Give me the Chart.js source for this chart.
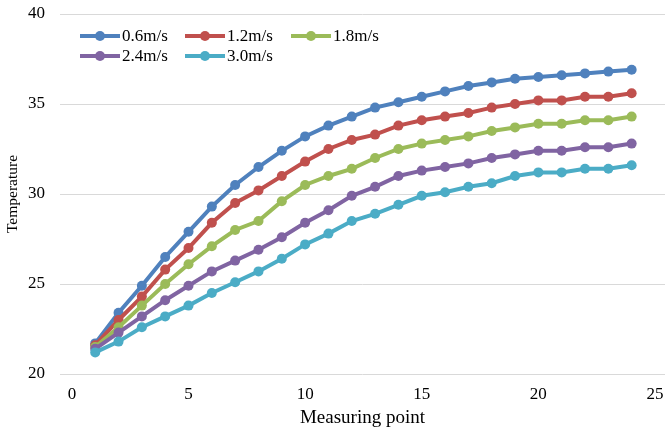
<!DOCTYPE html>
<html>
<head>
<meta charset="utf-8">
<title>Temperature along measuring points</title>
<script src="https://cdn.jsdelivr.net/npm/chart.js@4/dist/chart.umd.min.js"></script>
<style>
  html, body { margin: 0; padding: 0; background: #ffffff; }
  canvas { display: block; }
</style>
</head>
<body>
<canvas id="chart" width="665" height="429"></canvas>
<script>
// Measuring point index (x values)
const measuringPoints = [1, 2, 3, 4, 5, 6, 7, 8, 9, 10, 11, 12, 13, 14, 15, 16, 17, 18, 19, 20, 21, 22, 23, 24];

// Air speed of each series
const speedLabels = ['0.6m/s', '1.2m/s', '1.8m/s', '2.4m/s', '3.0m/s'];

// Temperature at each measuring point, one array per air speed
const temp06 = [21.7, 23.4, 24.9, 26.5, 27.9, 29.3, 30.5, 31.5, 32.4, 33.2, 33.8, 34.3, 34.8, 35.1, 35.4, 35.7, 36.0, 36.2, 36.4, 36.5, 36.6, 36.7, 36.8, 36.9];
const temp12 = [21.6, 23.0, 24.3, 25.8, 27.0, 28.4, 29.5, 30.2, 31.0, 31.8, 32.5, 33.0, 33.3, 33.8, 34.1, 34.3, 34.5, 34.8, 35.0, 35.2, 35.2, 35.4, 35.4, 35.6];
const temp18 = [21.5, 22.6, 23.8, 25.0, 26.1, 27.1, 28.0, 28.5, 29.6, 30.5, 31.0, 31.4, 32.0, 32.5, 32.8, 33.0, 33.2, 33.5, 33.7, 33.9, 33.9, 34.1, 34.1, 34.3];
const temp24 = [21.4, 22.3, 23.2, 24.1, 24.9, 25.7, 26.3, 26.9, 27.6, 28.4, 29.1, 29.9, 30.4, 31.0, 31.3, 31.5, 31.7, 32.0, 32.2, 32.4, 32.4, 32.6, 32.6, 32.8];
const temp30 = [21.2, 21.8, 22.6, 23.2, 23.8, 24.5, 25.1, 25.7, 26.4, 27.2, 27.8, 28.5, 28.9, 29.4, 29.9, 30.1, 30.4, 30.6, 31.0, 31.2, 31.2, 31.4, 31.4, 31.6];

// Axis tick values
const xTicks = [0, 5, 10, 15, 20, 25];
const yTicks = [20, 25, 30, 35, 40];

const seriesColors = ['#4F81BD', '#C0504D', '#9BBB59', '#8064A2', '#4BACC6'];
const seriesValues = [temp06, temp12, temp18, temp24, temp30];

const FONT = '"Liberation Serif", "Times New Roman", serif';
const TEXT = '#000000';

const datasets = seriesValues.map((vals, i) => ({
  label: speedLabels[i],
  data: measuringPoints.map((p, k) => ({ x: p, y: vals[k] })),
  borderColor: seriesColors[i],
  backgroundColor: seriesColors[i],
  borderWidth: 4,
  pointRadius: 5,
  pointHoverRadius: 5,
  pointBorderWidth: 0,
  tension: 0,
  fill: false,
  // later series are painted over earlier ones
  order: seriesValues.length - i
}));

// Two-row legend drawn inside the plot area
const insideLegend = {
  id: 'insideLegend',
  afterDatasetsDraw(chart) {
    const ctx = chart.ctx;
    const cols = [80, 185, 291];
    const rows = [36, 56];
    ctx.save();
    ctx.font = '17px ' + FONT;
    ctx.textBaseline = 'middle';
    ctx.textAlign = 'left';
    chart.data.datasets.forEach((ds, i) => {
      const x = cols[i % 3];
      const y = rows[Math.floor(i / 3)];
      ctx.strokeStyle = ds.borderColor;
      ctx.lineWidth = 4;
      ctx.beginPath();
      ctx.moveTo(x, y);
      ctx.lineTo(x + 40, y);
      ctx.stroke();
      ctx.fillStyle = ds.borderColor;
      ctx.beginPath();
      ctx.arc(x + 20, y, 5, 0, Math.PI * 2);
      ctx.fill();
      ctx.fillStyle = TEXT;
      ctx.fillText(ds.label, x + 42, y + 1);
    });
    ctx.restore();
  }
};

new Chart(document.getElementById('chart'), {
  type: 'line',
  data: { datasets },
  plugins: [insideLegend],
  options: {
    responsive: false,
    animation: false,
    devicePixelRatio: 1,
    layout: { autoPadding: false, padding: { top: 14, right: 0, bottom: 0, left: 0 } },
    plugins: {
      legend: { display: false },
      tooltip: { enabled: false }
    },
    scales: {
      x: {
        type: 'linear',
        min: -0.51,
        max: 25.43,
        afterBuildTicks: s => { s.ticks = xTicks.map(v => ({ value: v })); },
        afterFit: s => { s.height = 55; s.paddingLeft = 0; s.paddingRight = 0; s.paddingTop = 0; s.paddingBottom = 0; },
        grid: { display: false },
        border: { display: false },
        ticks: { font: { family: FONT, size: 17 }, color: TEXT, padding: 2, maxRotation: 0, autoSkip: false },
        title: { display: true, text: 'Measuring point', font: { family: FONT, size: 19 }, color: TEXT, padding: { top: 0, bottom: 0 } }
      },
      y: {
        min: 20,
        max: 40,
        afterBuildTicks: s => { s.ticks = yTicks.map(v => ({ value: v })); },
        afterFit: s => { s.width = 60; s.paddingTop = 0; s.paddingBottom = 0; s.paddingLeft = 0; s.paddingRight = 0; },
        grid: { color: '#D9D9D9', lineWidth: 1, drawTicks: false },
        border: { display: false },
        ticks: { font: { family: FONT, size: 17 }, color: TEXT, padding: 15 },
        title: { display: true, text: 'Temperature', font: { family: FONT, size: 15.5 }, color: TEXT, padding: { top: 4, bottom: 0 } }
      }
    }
  }
});
</script>
</body>
</html>
